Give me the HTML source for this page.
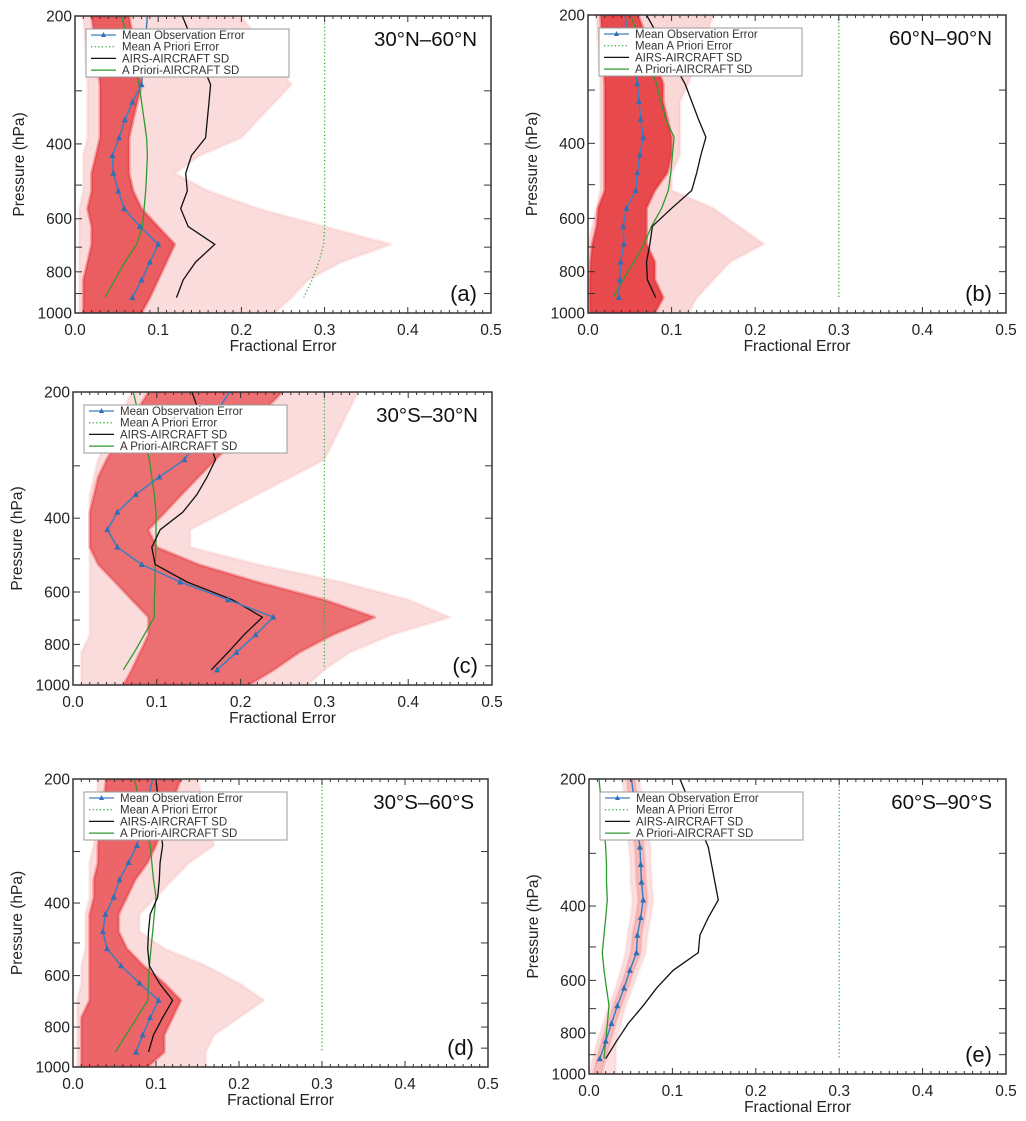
<!DOCTYPE html>
<html><head><meta charset="utf-8">
<style>
html,body{margin:0;padding:0;background:#fff;}
svg{display:block;font-family:"Liberation Sans",Arial,sans-serif;}
</style></head>
<body>
<svg id="chart" width="1026" height="1121" viewBox="0 0 1026 1121" xmlns="http://www.w3.org/2000/svg"></svg>
<script>
// pressure levels (hPa)
const LEV = [200,290,319,351,387,426,469,516,568,626,689,759,836,920,1000];
const xTicks = [0.0,0.1,0.2,0.3,0.4,0.5];
const xTickLabels = ["0.0","0.1","0.2","0.3","0.4","0.5"];
const yTickLabels = [200,400,600,800,1000];
const yMinorTicks = [300,400,500,600,700,800,900];
const legendLabels = ["Mean Observation Error","Mean A Priori Error","AIRS-AIRCRAFT SD","A Priori-AIRCRAFT SD"];

// panel (a) 30N-60N
const aObs=[0.087,0.080,0.069,0.060,0.053,0.045,0.046,0.052,0.059,0.078,0.100,0.090,0.080,0.069];
const aAirs=[0.129,0.163,0.161,0.159,0.157,0.140,0.133,0.135,0.127,0.136,0.168,0.145,0.130,0.122];
const aAprSd=[0.056,0.077,0.080,0.083,0.086,0.087,0.086,0.085,0.083,0.081,0.074,0.060,0.048,0.036];
const aAprErr=[0.3,0.3,0.3,0.3,0.3,0.3,0.3,0.3,0.3,0.3,0.299,0.293,0.285,0.275];
const aOutLo=[0.01,0.015,0.015,0.015,0.015,0.01,0.01,0.01,0.005,0.005,0.005,0.005,0.005,0.005,0.005];
const aOutHi=[0.20,0.26,0.24,0.22,0.20,0.15,0.12,0.16,0.22,0.30,0.38,0.32,0.28,0.26,0.24];
const aCoreLo=[0.02,0.03,0.03,0.03,0.03,0.025,0.02,0.02,0.015,0.02,0.02,0.015,0.01,0.01,0.01];
const aCoreHi=[0.065,0.08,0.075,0.07,0.065,0.065,0.065,0.07,0.08,0.10,0.12,0.11,0.10,0.09,0.08];

// panel (b) 60N-90N
const bObs=[0.044,0.059,0.061,0.063,0.066,0.062,0.059,0.057,0.046,0.042,0.043,0.039,0.038,0.037];
const bAirs=[0.070,0.116,0.124,0.132,0.141,0.135,0.130,0.124,0.100,0.077,0.074,0.070,0.071,0.081];
const bAprSd=[0.051,0.082,0.087,0.093,0.103,0.101,0.099,0.096,0.088,0.076,0.067,0.055,0.042,0.030];
const bAprErr=[0.3,0.3,0.3,0.3,0.3,0.3,0.3,0.3,0.3,0.3,0.3,0.3,0.3,0.3];
const bOutLo=[0.01,0.015,0.015,0.015,0.015,0.015,0.015,0.015,0.01,0.005,0.0,0.0,0.0,0.0,0.0];
const bOutHi=[0.15,0.12,0.11,0.11,0.11,0.11,0.10,0.10,0.15,0.18,0.21,0.17,0.15,0.13,0.12];
const bCoreLo=[0.015,0.02,0.02,0.02,0.02,0.02,0.02,0.02,0.012,0.01,0.005,0.003,0.002,0.002,0.002];
const bCoreHi=[0.06,0.09,0.09,0.095,0.10,0.10,0.095,0.08,0.07,0.07,0.07,0.08,0.08,0.09,0.08];

// panel (c) 30S-30N
const cObs=[0.187,0.133,0.103,0.075,0.053,0.041,0.053,0.082,0.128,0.185,0.239,0.218,0.195,0.172];
const cAirs=[0.142,0.170,0.160,0.148,0.131,0.104,0.094,0.098,0.136,0.190,0.226,0.204,0.185,0.165];
const cAprSd=[0.072,0.091,0.094,0.097,0.099,0.099,0.099,0.098,0.098,0.097,0.097,0.085,0.073,0.060];
const cAprErr=[0.3,0.3,0.3,0.3,0.3,0.3,0.3,0.3,0.3,0.3,0.3,0.3,0.3,0.3];
const cOutLo=[0.07,0.03,0.025,0.02,0.02,0.02,0.02,0.02,0.02,0.02,0.02,0.02,0.01,0.01,0.01];
const cOutHi=[0.34,0.30,0.26,0.22,0.18,0.14,0.14,0.22,0.32,0.40,0.45,0.38,0.33,0.30,0.28];
const cCoreLo=[0.09,0.04,0.03,0.025,0.02,0.02,0.02,0.03,0.05,0.07,0.09,0.09,0.08,0.07,0.06];
const cCoreHi=[0.25,0.17,0.15,0.13,0.11,0.09,0.10,0.15,0.22,0.30,0.36,0.31,0.27,0.24,0.21];

// panel (d) 30S-60S
const dObs=[0.096,0.077,0.067,0.056,0.049,0.039,0.036,0.041,0.058,0.080,0.103,0.093,0.084,0.076];
const dAirs=[0.100,0.108,0.105,0.104,0.102,0.093,0.091,0.090,0.092,0.104,0.120,0.108,0.097,0.091];
const dAprSd=[0.074,0.093,0.095,0.097,0.100,0.098,0.096,0.094,0.092,0.091,0.090,0.077,0.064,0.051];
const dAprErr=[0.3,0.3,0.3,0.3,0.3,0.3,0.3,0.3,0.3,0.3,0.3,0.3,0.3,0.3];
const dOutLo=[0.03,0.025,0.02,0.02,0.02,0.015,0.015,0.015,0.01,0.01,0.005,0.005,0.005,0.005,0.005];
const dOutHi=[0.15,0.17,0.14,0.12,0.10,0.08,0.08,0.11,0.16,0.20,0.23,0.20,0.17,0.16,0.16];
const dCoreLo=[0.04,0.03,0.03,0.025,0.025,0.02,0.02,0.02,0.02,0.02,0.02,0.01,0.01,0.01,0.01];
const dCoreHi=[0.13,0.10,0.09,0.075,0.065,0.055,0.055,0.065,0.085,0.11,0.13,0.12,0.11,0.11,0.09];

// panel (e) 60S-90S
const eObs=[0.051,0.061,0.062,0.063,0.065,0.062,0.058,0.057,0.049,0.042,0.034,0.027,0.020,0.013];
const eAirs=[0.109,0.143,0.147,0.151,0.155,0.143,0.133,0.131,0.101,0.081,0.065,0.047,0.033,0.020];
const eAprSd=[0.012,0.020,0.021,0.021,0.022,0.020,0.018,0.016,0.018,0.021,0.024,0.022,0.020,0.018];
const eAprErr=[0.3,0.3,0.3,0.3,0.3,0.3,0.3,0.3,0.3,0.3,0.3,0.3,0.3,0.3];
const eOutLo=[0.04,0.048,0.05,0.05,0.052,0.05,0.046,0.044,0.038,0.032,0.024,0.017,0.01,0.004,0.0];
const eOutHi=[0.06,0.074,0.074,0.075,0.077,0.074,0.07,0.068,0.06,0.052,0.044,0.038,0.033,0.032,0.032];
const eCoreLo=[0.045,0.055,0.056,0.057,0.059,0.056,0.052,0.05,0.044,0.037,0.029,0.022,0.015,0.009,0.005];
const eCoreHi=[0.055,0.066,0.067,0.068,0.07,0.067,0.063,0.062,0.054,0.047,0.039,0.032,0.026,0.02,0.015];

const panels=[
 {id:'a',title:'30°N–60°N',x0:75,x1:491,y0:16,y1:313,obs:aObs,airs:aAirs,sd:aAprSd,err:aAprErr,ol:aOutLo,oh:aOutHi,cl:aCoreLo,ch:aCoreHi,coreOp:0.7,outOp:0.4},
 {id:'b',title:'60°N–90°N',x0:588,x1:1006,y0:15,y1:313,obs:bObs,airs:bAirs,sd:bAprSd,err:bAprErr,ol:bOutLo,oh:bOutHi,cl:bCoreLo,ch:bCoreHi,coreOp:0.8,outOp:0.45},
 {id:'c',title:'30°S–30°N',x0:73,x1:492,y0:392,y1:685,obs:cObs,airs:cAirs,sd:cAprSd,err:cAprErr,ol:cOutLo,oh:cOutHi,cl:cCoreLo,ch:cCoreHi,coreOp:0.6,outOp:0.4},
 {id:'d',title:'30°S–60°S',x0:73,x1:488,y0:779,y1:1067,obs:dObs,airs:dAirs,sd:dAprSd,err:dAprErr,ol:dOutLo,oh:dOutHi,cl:dCoreLo,ch:dCoreHi,coreOp:0.65,outOp:0.4},
 {id:'e',title:'60°S–90°S',x0:589,x1:1006,y0:779,y1:1074,obs:eObs,airs:eAirs,sd:eAprSd,err:eAprErr,ol:eOutLo,oh:eOutHi,cl:eCoreLo,ch:eCoreHi,coreOp:0.2,outOp:0.35}
];

const NS='http://www.w3.org/2000/svg';
const svg=document.getElementById('chart');
function mk(tag,attrs,parent){const e=document.createElementNS(NS,tag);for(const k in attrs)e.setAttribute(k,attrs[k]);(parent||svg).appendChild(e);return e;}

panels.forEach(P=>{
 const g=mk('g',{});
 
 
 const xs=v=>P.x0+v/0.5*(P.x1-P.x0);
 const ys=p=>P.y0+(Math.log10(p)-Math.log10(200))/(Math.log10(1000)-Math.log10(200))*(P.y1-P.y0);
 const clipId='clip'+P.id;
 const cp=mk('clipPath',{id:clipId},g);
 mk('rect',{x:P.x0,y:P.y0,width:P.x1-P.x0,height:P.y1-P.y0},cp);
 const pg=mk('g',{'clip-path':'url(#'+clipId+')'},g);
 function band(lo,hi,fill,op,name){
  let pts=[];
  for(let i=0;i<LEV.length;i++)pts.push(xs(lo[i]).toFixed(1)+','+ys(LEV[i]).toFixed(1));
  for(let i=LEV.length-1;i>=0;i--)pts.push(xs(hi[i]).toFixed(1)+','+ys(LEV[i]).toFixed(1));
  const e=mk('polygon',{points:pts.join(' '),fill:fill,'fill-opacity':op,stroke:fill,'stroke-opacity':op*0.5,'stroke-width':3,'stroke-linejoin':'round'},pg);
  
  
 }
 band(P.ol,P.oh,'#f5a8a8',P.outOp,'profile-spread-outer');
 band(P.cl,P.ch,'#e3262b',P.coreOp,'profile-spread-core');
 function line(vals,color,w,dash,name){
  const d=vals.map((v,i)=>(i?'L':'M')+xs(v).toFixed(1)+','+ys(LEV[i]).toFixed(1)).join(' ');
  const attrs={d:d,fill:'none',stroke:color,'stroke-width':w};
  if(dash)attrs['stroke-dasharray']=dash;
  const e=mk('path',attrs,pg);
  
  
 }
 line(P.err,'#33b033',1.3,'1.2,2.4','mean-a-priori-error-line');
 line(P.sd,'#2f9a2f',1.3,null,'a-priori-aircraft-sd-line');
 line(P.airs,'#111',1.3,null,'airs-aircraft-sd-line');
 line(P.obs,'#3a7fc1',1.5,null,'mean-observation-error-line');
 for(let i=1;i<P.obs.length;i++){
  const cx=xs(P.obs[i]),cy=ys(LEV[i]);
  const t=mk('polygon',{points:`${cx},${cy-3.5} ${cx-3},${cy+2.5} ${cx+3},${cy+2.5}`,fill:'#2f6fb5'},pg);
  
  
 }
 // frame
 const fr=mk('rect',{x:P.x0,y:P.y0,width:P.x1-P.x0,height:P.y1-P.y0,fill:'none',stroke:'#333','stroke-width':1.5},g);
 
 
 // x ticks
 for(let k=0;k<=50;k++){
  const v=k/100,x=xs(v),len=(k%10===0)?6:3;
  mk('line',{x1:x,y1:P.y1,x2:x,y2:P.y1-len,stroke:'#333','stroke-width':1},g);
  mk('line',{x1:x,y1:P.y0,x2:x,y2:P.y0+len,stroke:'#333','stroke-width':1},g);
 }
 xTicks.forEach((v,i)=>{
  const t=mk('text',{x:xs(v),y:P.y1+22,'font-size':15.5,'text-anchor':'middle',fill:'#222'},g);
  t.textContent=xTickLabels[i];
  
  
 });
 yMinorTicks.forEach(p=>{
  const y=ys(p);
  mk('line',{x1:P.x0,y1:y,x2:P.x0+7,y2:y,stroke:'#333','stroke-width':1},g);
  mk('line',{x1:P.x1,y1:y,x2:P.x1-7,y2:y,stroke:'#333','stroke-width':1},g);
 });
 yTickLabels.forEach(p=>{
  const t=mk('text',{x:P.x0-3,y:ys(p)+5.5,'font-size':15.5,'text-anchor':'end',fill:'#222'},g);
  t.textContent=p;
  
  
 });
 const xt=mk('text',{x:(P.x0+P.x1)/2,y:P.y1+38,'font-size':15.5,'text-anchor':'middle',fill:'#222'},g);
 xt.textContent='Fractional Error';
 
 
 const yc=(P.y0+P.y1)/2, yx=P.x0-51;
 const yt=mk('text',{x:yx,y:yc,'font-size':15.5,'text-anchor':'middle',fill:'#222',transform:`rotate(-90 ${yx} ${yc})`},g);
 yt.textContent='Pressure (hPa)';
 
 
 const tt=mk('text',{x:P.x1-14,y:P.y0+30,'font-size':20.5,'text-anchor':'end',fill:'#111'},g);
 tt.textContent=P.title;
 
 
 const pl=mk('text',{x:P.x1-14,y:P.y1-12,'font-size':22,'text-anchor':'end',fill:'#111'},g);
 pl.textContent='('+P.id+')';
 
 
 // legend
 const lg=mk('g',{},g);
 
 
 const lx=P.x0+11, ly=P.y0+13;
 mk('rect',{x:lx,y:ly,width:203,height:48,fill:'#fff',stroke:'#999','stroke-width':1},lg);
 const styles=[['#3a7fc1',null],['#33b033','1.2,2.4'],['#111',null],['#2f9a2f',null]];
 legendLabels.forEach((lab,i)=>{
  const ry=ly+6+i*11.7;
  const a={x1:lx+5,y1:ry,x2:lx+30,y2:ry,stroke:styles[i][0],'stroke-width':1.3};
  if(styles[i][1])a['stroke-dasharray']=styles[i][1];
  const ln=mk('line',a,lg);
  
  
  if(i===0)mk('polygon',{points:`${lx+17.5},${ry-3} ${lx+15},${ry+2} ${lx+20},${ry+2}`,fill:'#2f6fb5'},lg);
  const t=mk('text',{x:lx+36,y:ry+4,'font-size':11.5,fill:'#333'},lg);
  t.textContent=lab;
  
  
 });
});
</script>
</body></html>
